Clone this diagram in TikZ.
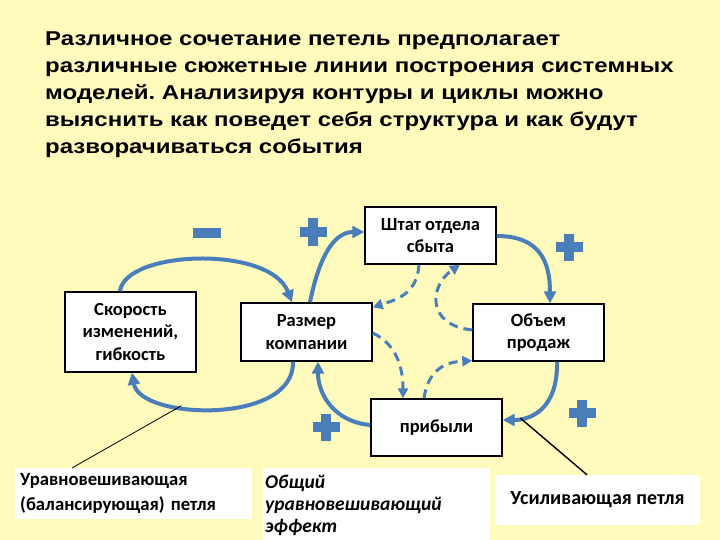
\documentclass[tikz,border=0pt]{standalone}
\usepackage{fontspec}
\setmainfont{Carlito}
\newfontfamily\titlefont{Liberation Sans}[FakeStretch=1.2]
\usetikzlibrary{arrows.meta, positioning}
\definecolor{loopblue}{RGB}{74,126,187}
\definecolor{slidebg}{RGB}{255,251,189}
\frenchspacing

\tikzset{
  varbox/.style={draw=black, line width=1.4pt, fill=white, align=center,
    font=\bfseries\fontsize{18.5}{22.5}\selectfont, minimum width=131pt, inner sep=0pt},
  loopline/.style={draw=loopblue, line width=4pt, -{Triangle[length=12pt,width=12pt]}},
  linkline/.style={draw=loopblue, line width=3pt, dash pattern=on 9pt off 6pt,
    -{Triangle[length=10pt,width=10pt]}},
  notebox/.style={fill=white, inner sep=0pt, anchor=north west, align=left},
  titleline/.style={anchor=base west, inner sep=0pt,
    font=\titlefont\bfseries\fontsize{20}{27}\selectfont}
}

\begin{document}
\begin{tikzpicture}[x=1pt, y=-1pt]
  \useasboundingbox (0,0) rectangle (720,540);
  \fill[slidebg] (0,0) rectangle (720,540);

  % heading
  \foreach \ln [count=\i from 0] in {Различное сочетание петель предполагает,
      различные сюжетные линии построения системных,
      моделей. Анализируя контуры и циклы можно,
      выяснить как поведет себя структура и как будут,
      разворачиваться события}
    \node[titleline] (title\i) at (45, 46+27*\i) {\ln};

  % variables
  \node[varbox, minimum height=57pt] (shtat) at (430.5,235.5) {Штат отдела\\сбыта};
  \node[varbox, minimum height=80pt] (skor) at (130.5,332) {Скорость\\изменений,\\гибкость};
  \node[varbox, minimum height=58pt] (razmer) at (306.5,332) {Размер\\компании};
  \node[varbox, minimum height=57pt] (obem) at (538.5,332.5) {Объем\\продаж};
  \node[varbox, minimum height=57pt] (pribyl) at (436.5,427.5) {прибыли};

  % loop signs
  \foreach \px/\py in {313/232, 569/247, 326/427, 582/413} {
    \fill[loopblue] (\px-13.5,\py-5) rectangle (\px+13.5,\py+5);
    \fill[loopblue] (\px-5,\py-13.5) rectangle (\px+5,\py+13.5);
  }
  \fill[loopblue] (193,228) rectangle (221,238);

  % solid links
  \draw[loopline] ([xshift=3.5pt]razmer.north) .. controls (318,262) and (332,232) .. ([yshift=3.5pt]shtat.west);
  \draw[loopline] ([yshift=-0.5pt]shtat.east) .. controls (540,236) and (550,262) .. ([xshift=11.5pt]obem.north);
  \draw[loopline] ([xshift=18.5pt]obem.south) .. controls (558,410) and (530,420) .. coordinate[pos=0.78] (rein) ([yshift=7.5pt]pribyl.east);
  \draw[loopline] ([yshift=2.5pt]pribyl.west) .. controls (335,422) and (318,395) .. ([xshift=11.5pt]razmer.south);
  \draw[loopline] ([xshift=-13.5pt]razmer.south) .. controls (295,425) and (140,420) .. coordinate[pos=0.65] (bal) ([xshift=1.5pt]skor.south);
  \draw[loopline] ([xshift=-10.5pt]skor.north) .. controls (125,250) and (270,245) .. ([xshift=-14.5pt]razmer.north);

  % dashed links
  \draw[linkline] ([xshift=-11.5pt]shtat.south) .. controls (417,295) and (395,300) .. ([yshift=-5pt]razmer.north east);
  \draw[linkline] ([yshift=2.5pt]obem.west) .. controls (425,325) and (430,285) .. ([xshift=29.5pt]shtat.south);
  \draw[linkline] ([yshift=-1pt]razmer.east) .. controls (398,345) and (403,370) .. ([xshift=-33.5pt]pribyl.north);
  \draw[linkline] ([xshift=-12.5pt]pribyl.north) .. controls (428,370) and (445,362) .. ([yshift=1pt]obem.south west);

  % captions
  \node[notebox, inner xsep=5pt, inner ysep=5.5pt, text width=227pt,
    font=\bfseries\fontsize{18.7}{25}\selectfont]
    (balnote) at (15,468) {Уравновешивающая\\(балансирующая) петля};
  \node[notebox, inner xsep=2pt, inner ysep=7pt, text width=223pt, minimum height=72pt,
    font=\bfseries\itshape\fontsize{19.5}{22}\selectfont]
    (effnote) at (263,468) {Общий\\уравновешивающий\\эффект};
  \node[notebox, anchor=center, minimum width=205pt, minimum height=50pt, align=center,
    font=\bfseries\fontsize{20}{24}\selectfont]
    (reinnote) at (597.5,500) {Усиливающая петля};

  \draw[black, line width=0.8pt] (bal) -- ([xshift=57pt]balnote.north west);
  \draw[black, line width=1.4pt] (rein) -- ([xshift=-10.5pt]reinnote.north);
\end{tikzpicture}
\end{document}
